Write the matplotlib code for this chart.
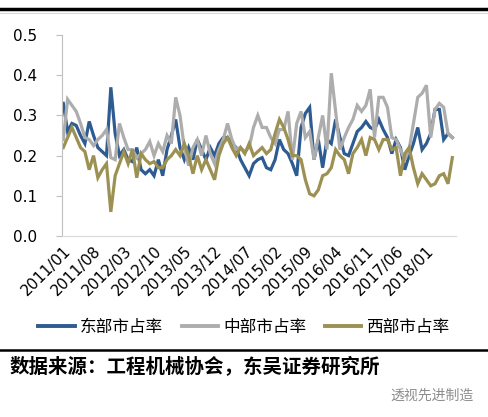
import numpy as np
import matplotlib
matplotlib.use('Agg')
import matplotlib.pyplot as plt
from matplotlib.lines import Line2D

plt.rcParams['font.family'] = ['Noto Sans CJK SC', 'DejaVu Sans']

# monthly share, 2011/01 .. 2018/07
east = [0.33, 0.26, 0.28, 0.275, 0.25, 0.23, 0.285, 0.25, 0.22, 0.21, 0.2,
        0.37, 0.255, 0.2, 0.215, 0.19, 0.185, 0.22, 0.165, 0.155, 0.165, 0.15,
        0.19, 0.15, 0.215, 0.25, 0.29, 0.22, 0.19, 0.22, 0.19, 0.24, 0.215,
        0.19, 0.22, 0.2, 0.23, 0.245, 0.245, 0.23, 0.22, 0.19, 0.17, 0.15,
        0.18, 0.19, 0.195, 0.17, 0.165, 0.19, 0.24, 0.215, 0.205, 0.18, 0.15,
        0.27, 0.305, 0.32, 0.19, 0.24, 0.17, 0.24, 0.23, 0.29, 0.245, 0.205,
        0.2, 0.23, 0.26, 0.27, 0.285, 0.27, 0.265, 0.29, 0.265, 0.245, 0.205,
        0.24, 0.22, 0.165, 0.2, 0.23, 0.27, 0.215, 0.23, 0.255, 0.315, 0.315,
        0.24, 0.255, 0.245]
middle = [0.24, 0.34, 0.325, 0.31, 0.28, 0.245, 0.24, 0.225, 0.24, 0.25, 0.265,
          0.195, 0.19, 0.28, 0.245, 0.215, 0.215, 0.195, 0.205, 0.215, 0.235, 0.2,
          0.23, 0.21, 0.25, 0.23, 0.345, 0.3, 0.22, 0.175, 0.22, 0.24, 0.2,
          0.25, 0.205, 0.18, 0.215, 0.24, 0.28, 0.24, 0.215, 0.22, 0.21, 0.22,
          0.27, 0.3, 0.27, 0.27, 0.245, 0.23, 0.265, 0.265, 0.31, 0.19, 0.28,
          0.31, 0.245, 0.26, 0.19, 0.245, 0.3, 0.215, 0.405, 0.31, 0.215, 0.245,
          0.27, 0.29, 0.325, 0.31, 0.325, 0.365, 0.245, 0.345, 0.345, 0.32, 0.245,
          0.24, 0.215, 0.19, 0.215, 0.28, 0.345, 0.355, 0.375, 0.245, 0.315, 0.33,
          0.32, 0.255, 0.245]
west = [0.22, 0.245, 0.27, 0.245, 0.22, 0.21, 0.165, 0.2, 0.145, 0.165, 0.18,
        0.06, 0.15, 0.18, 0.21, 0.18, 0.215, 0.145, 0.205, 0.19, 0.18, 0.185,
        0.17, 0.17, 0.19, 0.2, 0.215, 0.2, 0.23, 0.2, 0.155, 0.2, 0.165,
        0.19, 0.165, 0.14, 0.2, 0.23, 0.245, 0.22, 0.2, 0.22, 0.205, 0.23,
        0.2, 0.21, 0.22, 0.205, 0.215, 0.255, 0.29, 0.27, 0.24, 0.2, 0.2,
        0.19, 0.14, 0.105, 0.1, 0.115, 0.15, 0.155, 0.17, 0.215, 0.2, 0.19,
        0.155, 0.205, 0.22, 0.24, 0.2, 0.245, 0.24, 0.215, 0.24, 0.24, 0.215,
        0.22, 0.15, 0.205, 0.22, 0.17, 0.13, 0.155, 0.14, 0.125, 0.13, 0.15,
        0.155, 0.13, 0.195]

tick_labels = ['2011/01', '2011/08', '2012/03', '2012/10', '2013/05', '2013/12',
               '2014/07', '2015/02', '2015/09', '2016/04', '2016/11', '2017/06',
               '2018/01']
names = ['东部市占率', '中部市占率', '西部市占率']
colors = ['#2E5B92', '#ADADAD', '#9C9152']

fig = plt.figure(figsize=(4.88, 4.17), dpi=100)
ax = fig.add_axes([0.127, 0.434, 0.807, 0.482])

x = np.arange(len(east))
for s, c in zip([east, middle, west], colors):
    ax.plot(x, s, color=c, lw=2.3, solid_joinstyle='miter')

ax.set_ylim(0, 0.5)
ax.set_yticks([0, 0.1, 0.2, 0.3, 0.4, 0.5])
ax.set_yticklabels(['0.0', '0.1', '0.2', '0.3', '0.4', '0.5'], fontsize=11, family='DejaVu Sans')
ax.set_xlim(-0.3, 90.8)
ax.set_xticks(np.arange(0, len(east), 7))
ax.set_xticklabels(tick_labels, rotation=45, ha='right', rotation_mode='anchor',
                   fontsize=11, family='DejaVu Sans')
ax.tick_params(axis='x', length=0, pad=5)
ax.tick_params(axis='y', length=4, color='#BFBFBF', pad=14)
for side in ['top', 'right']:
    ax.spines[side].set_visible(False)
ax.spines['left'].set_color('#BFBFBF')
ax.spines['bottom'].set_color('#D9D9D9')

handles = [Line2D([], [], color=c, lw=2.8) for c in colors]
fig.legend(handles, names, loc='center', bbox_to_anchor=(0.5, 0.215), ncol=3,
           frameon=False, fontsize=12, handlelength=2.2, handletextpad=0.3,
           columnspacing=1.1)

# frame lines
fig.add_artist(Line2D([0, 1], [1 - 9 / 417, 1 - 9 / 417], color='black', lw=2.5))
fig.add_artist(Line2D([0, 1], [1 - 13 / 417, 1 - 13 / 417], color='#D9D9D9', lw=0.8))
fig.add_artist(Line2D([0, 1], [1 - 350 / 417, 1 - 350 / 417], color='black', lw=1.8))

fig.text(0.02, 1 - 367 / 417, '数据来源：工程机械协会，东吴证券研究所', fontsize=14,
         fontweight='bold', va='center', ha='left')
fig.text(0.97, 1 - 396 / 417, '透视先进制造', fontsize=10, color='#8C8C8C',
         va='center', ha='right')

fig.savefig('out.png', dpi=100)
